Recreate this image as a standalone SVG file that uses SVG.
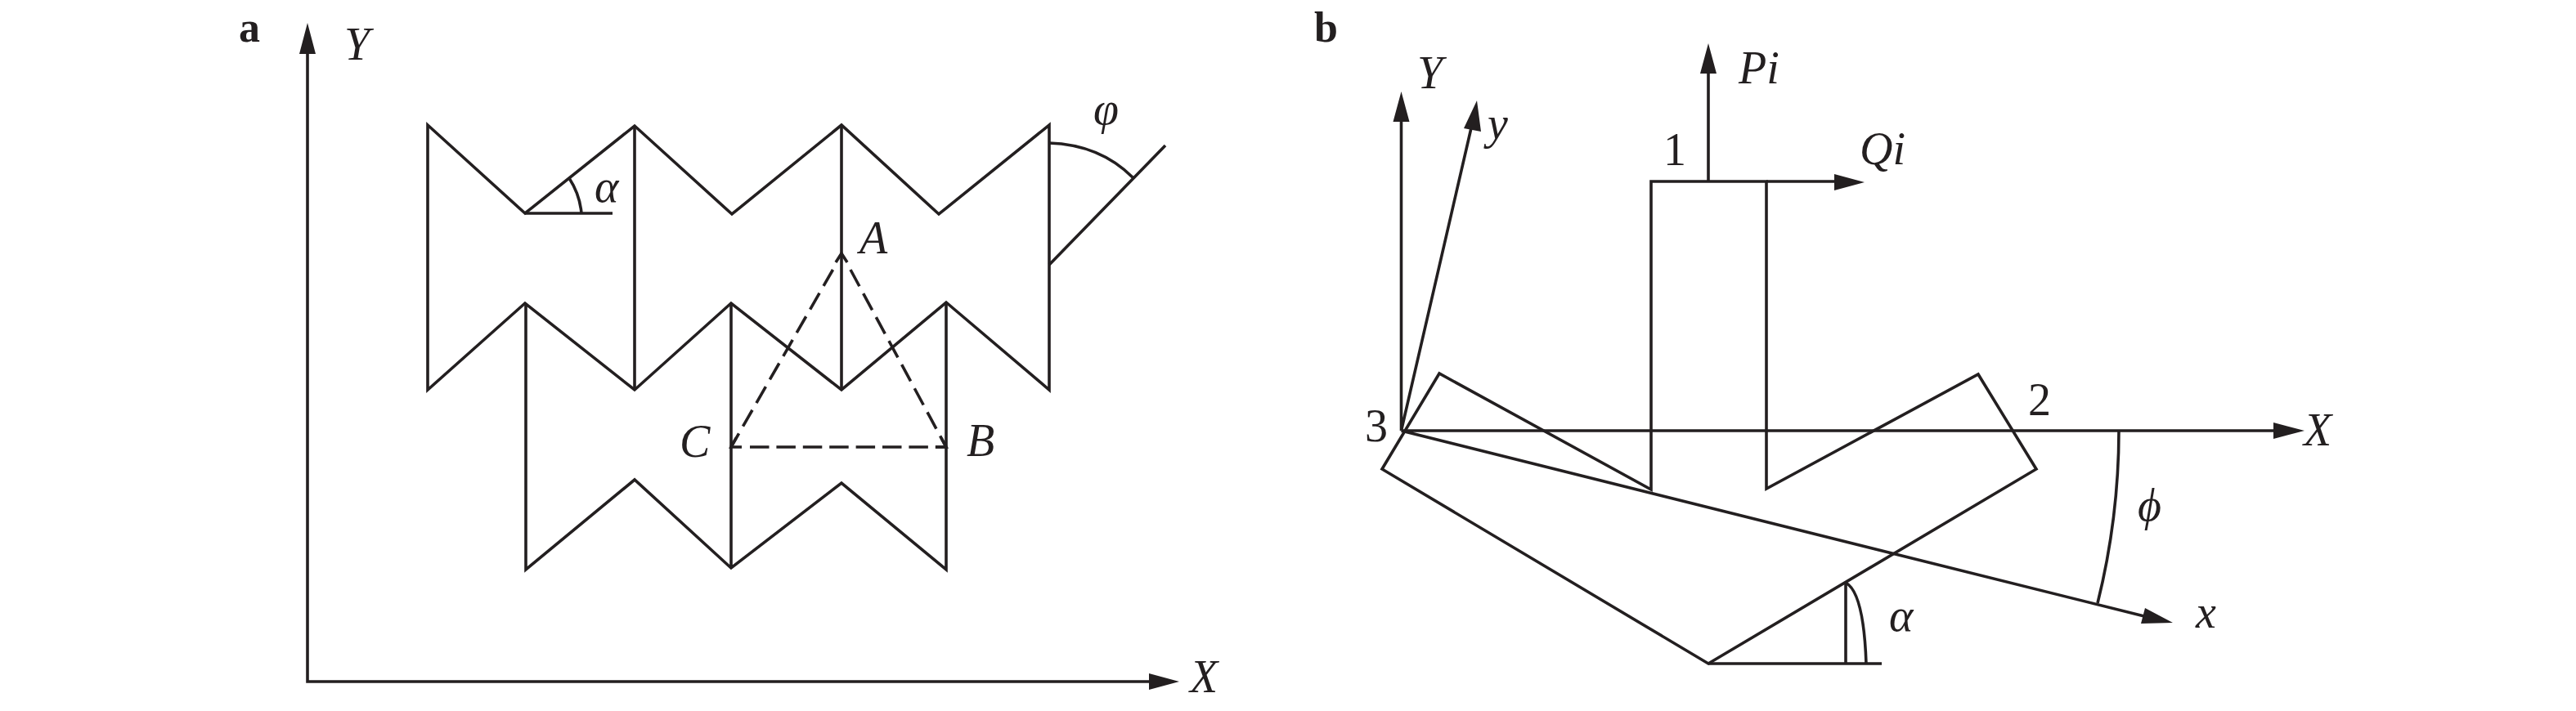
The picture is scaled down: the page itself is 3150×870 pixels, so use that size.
<svg xmlns="http://www.w3.org/2000/svg" width="3150" height="870" viewBox="0 0 3150 870">
<style>
.l{fill:none;stroke:#231f20;stroke-width:3.6;stroke-linejoin:miter}
.d{fill:none;stroke:#231f20;stroke-width:3.6;stroke-dasharray:23 10}
.e{fill:none;stroke:#231f20;stroke-width:3.6;stroke-dasharray:23.500 8.900}
.h{fill:#231f20;stroke:none}
text{font-family:"Liberation Serif","Times New Roman",serif;font-size:56px;fill:#231f20}
.i{font-style:italic}
.b{font-weight:bold;font-size:52px}
</style>
<rect width="3150" height="870" fill="#fff"/>
<g id="panel-a">
<g id="shape-a">
<path class="l" d="M523,153 L642,261 L776,154 L895,262 L1029,153 L1148,262 L1283,153 L1283,477 L1157,370 L1029,477 L894,371 L776,477 L642,371 L523,477 Z"/>
<path class="l" d="M776,154V477M1029,153V477M643,371V697L776,587L894,695L1029,591L1157,697V370M894,371V695"/>
<path class="l" d="M642,261H749M696,218Q709,238 711,261M1283,175Q1345,177 1385,217M1283,324L1425,178"/>
</g>
<g id="triangle-a">
<path class="d" d="M1018.500,330L894,547M1040,330L1157,547"/>
<path class="e" d="M917,547H1157"/>
<path class="l" d="M1022,321L1029,310L1036,321M907,547H894L900,536M1151,536L1157,547H1144"/>
</g>
<g id="axes-a">
<path class="l" d="M376,60V834H1410"/>
<path class="h" d="M376,28L386,66H366ZM1442,834L1405,824V844Z"/>
</g>
<text x="292" y="51" class="b">a</text>
<text x="421" y="73" class="i">Y</text>
<text x="1455" y="847" class="i">X</text>
<text x="727" y="247" class="i">α</text>
<text x="1337" y="152" class="i">φ</text>
<text x="1051" y="310" class="i">A</text>
<text x="1182" y="558" class="i">B</text>
<text x="831" y="559" class="i">C</text>
</g>
<g id="panel-b">
<g id="shape-b">
<path class="l" d="M2019,222H2160V598L2419,458L2490,574L2089,812L1690,574L1760,457L2019,599Z"/>
<path class="l" d="M2089,812H2301M2257,713V812M2257,713Q2279,725 2282,812M2591,527A878,878 0 0 1 2565,738"/>
</g>
<g id="axes-b">
<path class="l" d="M1713.500,527V140M1713.500,527L1801,148M1713.500,527H2790M1713.500,527L2630,756M2089,222V85M2160,222H2250"/>
<path class="h" d="M1713.500,112L1723.500,149H1703.500ZM1806,123L1811,161L1790,157ZM2089,53L2099,90H2079ZM2280,223L2243,213V233ZM2818,527L2780,517V537ZM2657,762L2618,763L2623,744Z"/>
</g>
<text x="1607" y="51" class="b">b</text>
<text x="1733" y="108" class="i">Y</text>
<text x="1819" y="170" class="i">y</text>
<text x="2126" y="102" class="i">Pi</text>
<text x="2274" y="201" class="i">Qi</text>
<text x="2034" y="202">1</text>
<text x="2480" y="508">2</text>
<text x="1669" y="540">3</text>
<text x="2817" y="545" class="i">X</text>
<text x="2685" y="768" class="i">x</text>
<text x="2310" y="772" class="i">α</text>
<text x="2614" y="637" class="i">ϕ</text>
</g>
</svg>
